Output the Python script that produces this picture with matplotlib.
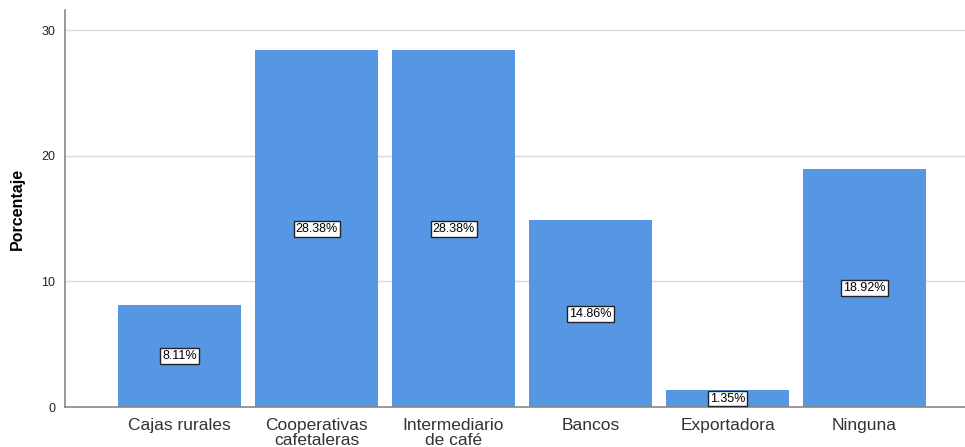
import matplotlib.pyplot as plt

categorias = ['Cajas rurales', 'Cooperativas\ncafetaleras', 'Intermediario\nde café',
              'Bancos', 'Exportadora', 'Ninguna']
porcentajes = [8.11, 28.38, 28.38, 14.86, 1.35, 18.92]
yticks = [0, 10, 20, 30]

plt.rcParams['font.family'] = ['Liberation Sans', 'DejaVu Sans']

fig = plt.figure(figsize=(9.65, 4.47), dpi=100)
ax = fig.add_axes([65 / 965, 40 / 447, 900 / 965, 397 / 447])

x = list(range(len(categorias)))
ax.bar(x, porcentajes, width=0.898, color='#5596e5', zorder=2)

for xi, v in zip(x, porcentajes):
    ax.text(xi, v / 2, f'{v:.2f}%', ha='center', va='center', fontsize=9,
            bbox=dict(boxstyle='square,pad=0.15', fc='white', ec='#222222', lw=1),
            zorder=3)

ax.set_xlim(-0.836, 5.733)
ax.set_ylim(0, 31.6)
ax.set_yticks(yticks)
ax.set_xticks(x)
ax.set_xticklabels(categorias, fontsize=12.5, color='#333333', linespacing=0.95)
ax.tick_params(axis='x', length=0, pad=8)
ax.tick_params(axis='y', length=0, pad=7, labelsize=9, labelcolor='#222222')
ax.yaxis.grid(True, color='#d9d9d9', lw=1, zorder=1)
ax.set_ylabel('Porcentaje', fontsize=11.5, fontweight='bold', labelpad=12)

for s in ['top', 'right']:
    ax.spines[s].set_visible(False)
ax.spines['left'].set_color('#888888')
ax.spines['bottom'].set_color('#888888')
ax.spines['left'].set_linewidth(1.2)
ax.spines['bottom'].set_linewidth(1.2)

plt.savefig('out.png', dpi=100)
